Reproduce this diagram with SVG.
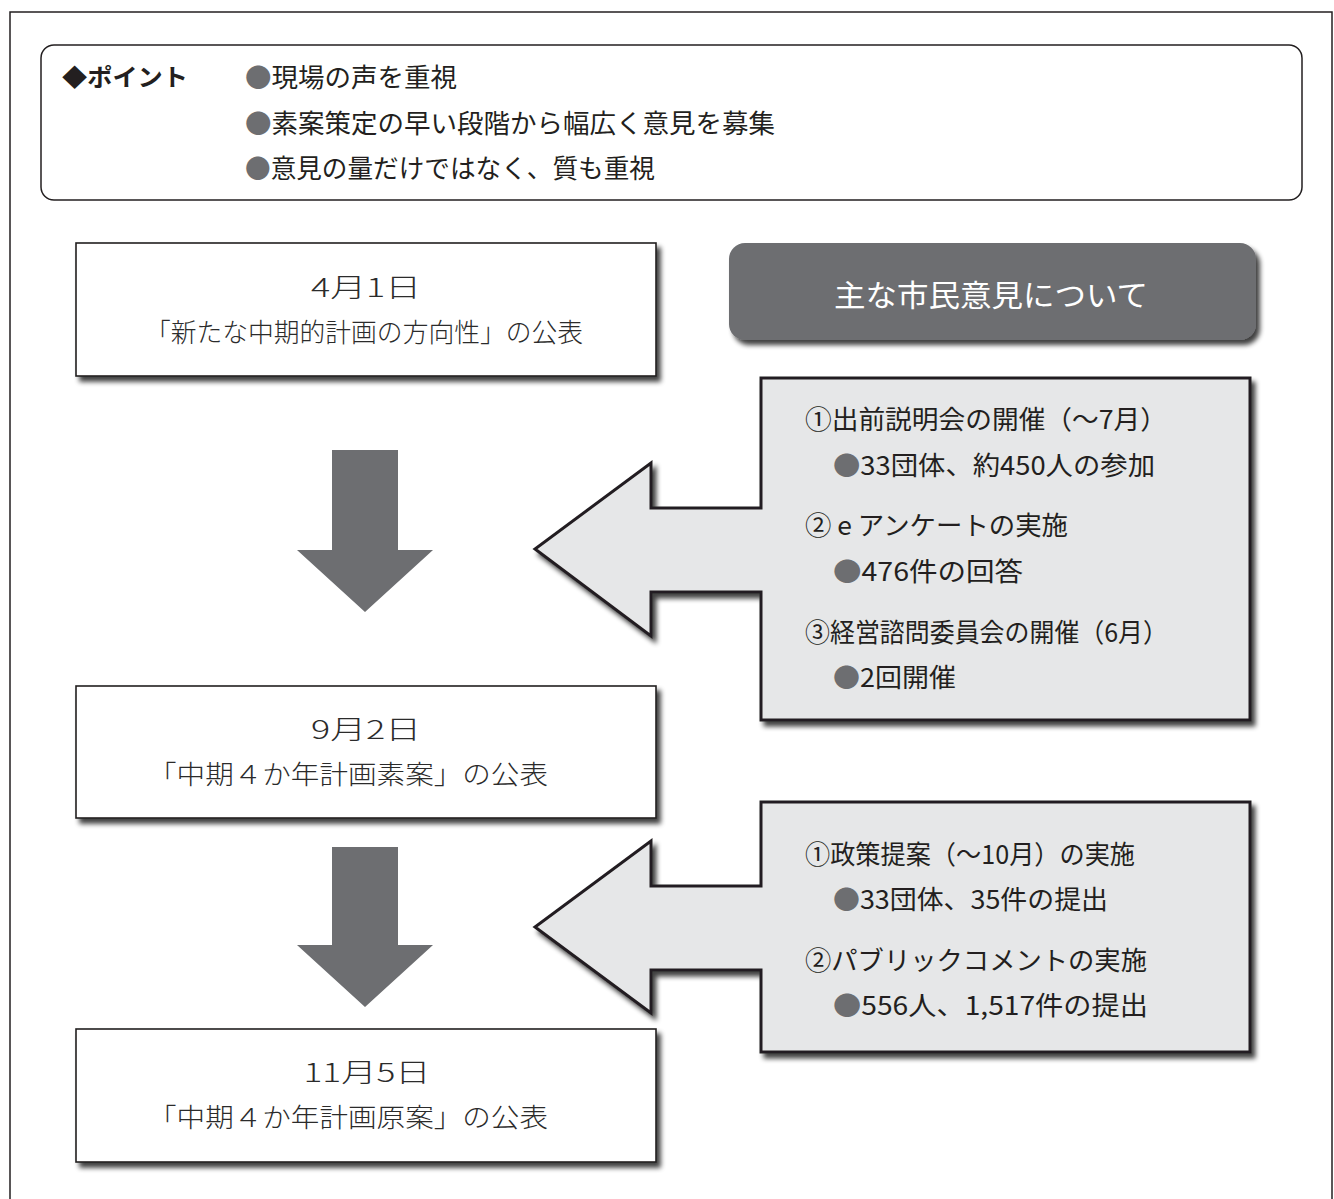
<svg xmlns="http://www.w3.org/2000/svg" width="1334" height="1199" viewBox="0 0 1334 1199">
<defs>
<filter id="sh" x="-10%" y="-10%" width="130%" height="130%">
<feGaussianBlur in="SourceAlpha" stdDeviation="2.5"/>
<feOffset dx="4" dy="5" result="b"/>
<feComponentTransfer><feFuncA type="linear" slope="0.75"/></feComponentTransfer>
<feMerge><feMergeNode/><feMergeNode in="SourceGraphic"/></feMerge>
</filter>
<style>
text{font-family:"Noto Sans CJK JP","Noto Sans",sans-serif;fill:#231f20;dominant-baseline:central}
.t{font-size:26px}
.c{text-anchor:middle;fill:#2b2b2b;font-weight:300}
.b{fill:#6d6e71}
.date{fill:#fff;stroke:#231f20;stroke-width:1.6}
.call{fill:#e6e7e8;stroke:#231f20;stroke-width:3;stroke-linejoin:miter}
.down{fill:#6d6e71}
</style>
</defs>
<rect width="1334" height="1199" fill="#fff"/>
<rect x="10" y="12" width="1322" height="1200" fill="none" stroke="#231f20" stroke-width="1.5"/>

<g id="point">
<rect x="41" y="45" width="1261" height="155" rx="13" fill="#fff" stroke="#231f20" stroke-width="1.5"/>
<text x="62" y="75" style="font-size:24px;font-weight:bold" textLength="126" lengthAdjust="spacingAndGlyphs">◆ポイント</text>
<text class="t" x="245" y="75" textLength="212" lengthAdjust="spacingAndGlyphs"><tspan class="b">●</tspan>現場の声を重視</text>
<text class="t" x="245" y="121" textLength="530" lengthAdjust="spacingAndGlyphs"><tspan class="b">●</tspan>素案策定の早い段階から幅広く意見を募集</text>
<text class="t" x="245" y="166" textLength="410" lengthAdjust="spacingAndGlyphs"><tspan class="b">●</tspan>意見の量だけではなく、質も重視</text>
</g>

<g id="connectors">
<path class="down" d="M332,450 H398 V550 H433 L365,612 L297,550 H332 Z"/>
<path class="down" d="M332,847 H398 V945 H433 L365,1007 L297,945 H332 Z"/>
</g>

<g id="node-apr">
<rect class="date" x="76" y="243" width="580" height="133" filter="url(#sh)"/>
<text class="t c" x="366" y="285" textLength="110" lengthAdjust="spacingAndGlyphs">4月1日</text>
<text class="t c" x="364" y="330" textLength="438" lengthAdjust="spacingAndGlyphs">「新たな中期的計画の方向性」の公表</text>
</g>

<g id="node-sep">
<rect class="date" x="76" y="686" width="580" height="132" filter="url(#sh)"/>
<text class="t c" x="366" y="727" textLength="110" lengthAdjust="spacingAndGlyphs">9月2日</text>
<text class="t c" x="348" y="772" textLength="400" lengthAdjust="spacingAndGlyphs">「中期４か年計画素案」の公表</text>
</g>

<g id="node-nov">
<rect class="date" x="76" y="1029" width="580" height="133" filter="url(#sh)"/>
<text class="t c" x="367" y="1070" textLength="127" lengthAdjust="spacingAndGlyphs">11月5日</text>
<text class="t c" x="348" y="1115" textLength="400" lengthAdjust="spacingAndGlyphs">「中期４か年計画原案」の公表</text>
</g>

<g id="header">
<rect x="729" y="243" width="527" height="97" rx="16" fill="#6d6e71" filter="url(#sh)"/>
<text x="991" y="293" style="font-size:30px;fill:#fff;text-anchor:middle" textLength="314" lengthAdjust="spacingAndGlyphs">主な市民意見について</text>
</g>

<g id="opinion-1">
<path class="call" d="M761,378 H1250 V720 H761 V592 H651 V636 L535,549 L651,463 V508 H761 Z" filter="url(#sh)"/>
<text class="t" x="805" y="417" textLength="362" lengthAdjust="spacingAndGlyphs">①出前説明会の開催（～7月）</text>
<text class="t" x="833" y="463" textLength="322" lengthAdjust="spacingAndGlyphs"><tspan class="b">●</tspan>33団体、約450人の参加</text>
<text class="t" x="805" y="523" textLength="263" lengthAdjust="spacingAndGlyphs">② e アンケートの実施</text>
<text class="t" x="833" y="569" textLength="190" lengthAdjust="spacingAndGlyphs"><tspan class="b">●</tspan>476件の回答</text>
<text class="t" x="805" y="630" textLength="363" lengthAdjust="spacingAndGlyphs">③経営諮問委員会の開催（6月）</text>
<text class="t" x="833" y="675" textLength="123" lengthAdjust="spacingAndGlyphs"><tspan class="b">●</tspan>2回開催</text>
</g>

<g id="opinion-2">
<path class="call" d="M761,802 H1250 V1052 H761 V970 H651 V1013 L535,927 L651,841 V886 H761 Z" filter="url(#sh)"/>
<text class="t" x="805" y="852" textLength="330" lengthAdjust="spacingAndGlyphs">①政策提案（～10月）の実施</text>
<text class="t" x="833" y="897" textLength="275" lengthAdjust="spacingAndGlyphs"><tspan class="b">●</tspan>33団体、35件の提出</text>
<text class="t" x="805" y="958" textLength="342" lengthAdjust="spacingAndGlyphs">②パブリックコメントの実施</text>
<text class="t" x="833" y="1003" textLength="315" lengthAdjust="spacingAndGlyphs"><tspan class="b">●</tspan>556人、1,517件の提出</text>
</g>
</svg>
